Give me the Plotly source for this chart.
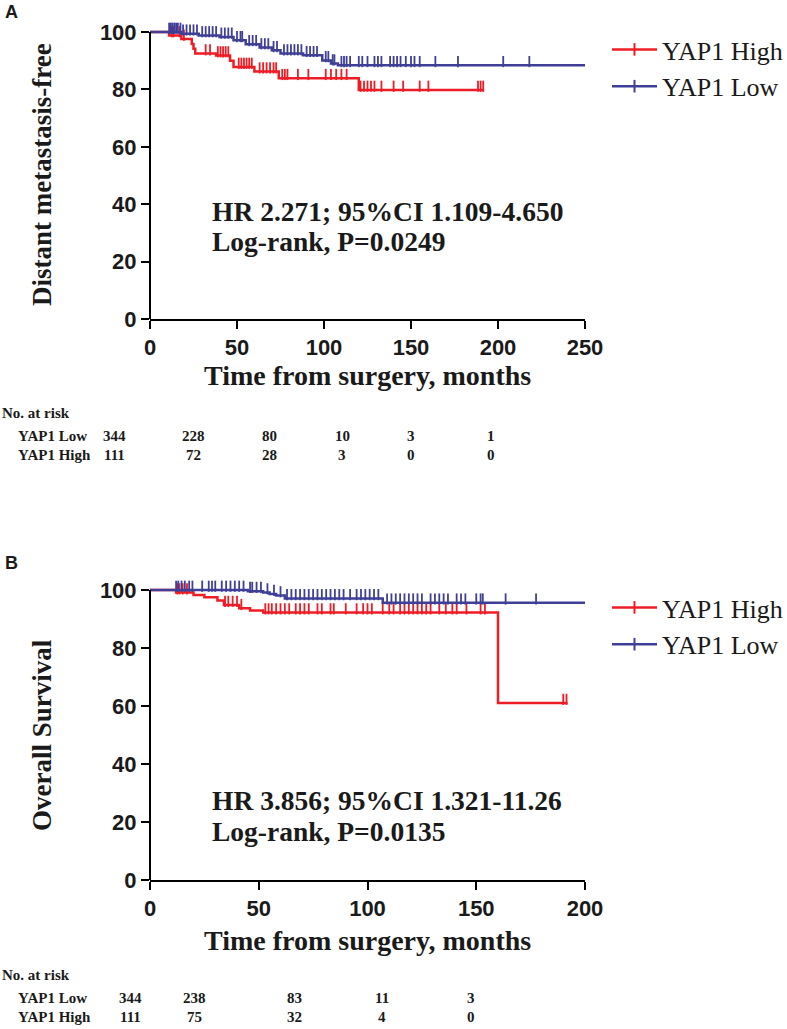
import numpy as np
import plotly.graph_objects as go

# ---------------- Data ----------------
# Panel A: Distant metastasis-free
A_high_event_t = [11, 18, 24, 25, 26, 38, 46, 48, 60, 74, 120]
A_high_surv = [98.8, 97.6, 95.8, 94.2, 92.5, 91.8, 90.0, 87.8, 86.2, 83.9, 79.8]
A_high_end = 192
A_high_censor = [12.5, 13.5, 17, 19.5, 32, 34.5, 39, 40.5, 42, 43.5, 45, 51, 52.5, 54,
                 55.5, 57, 58.5, 63, 65, 67, 69, 71, 72.5, 76, 77.5, 79, 85, 91, 101,
                 104, 107, 110, 113, 121, 123, 125, 127, 129, 133, 140, 145.5, 155,
                 160, 188.5, 190, 191.5]

A_low_event_t = [18, 28, 40, 48, 55, 63, 70, 75, 88, 99, 104, 108]
A_low_surv = [99.4, 98.8, 98.3, 97.1, 95.7, 94.6, 93.6, 92.5, 91.9, 90.1, 89.0, 88.4]
A_low_end = 250
A_low_censor = [11, 12, 13, 14, 15, 16, 17.5, 19, 21, 23, 25, 27, 30, 32, 34, 36, 38,
                41, 43, 45, 47, 50, 52, 53, 57, 59, 61, 64, 66, 68, 71, 73, 77, 79,
                81, 83, 85, 87, 90, 92, 94, 96, 101, 102.5, 105, 106, 110, 111.5, 113,
                115, 120, 122, 125, 129, 131, 133, 138, 140, 142, 144, 147, 150, 152,
                155, 164, 177, 203, 218]

# Panel B: Overall survival
B_high_event_t = [12, 20, 25, 31, 34, 41, 46, 52, 160]
B_high_surv = [99.1, 98.3, 97.5, 96.4, 94.8, 93.7, 92.9, 92.2, 61.0]
B_high_end = 192
B_high_censor = [12.5, 13.5, 15, 17, 34.5, 36, 38, 40, 42, 53, 54.5, 56, 58, 60, 62,
                 64, 67, 69, 71, 73, 77, 79, 83, 84.5, 90, 95, 98, 100, 102, 107, 110,
                 112, 115, 117, 119, 121, 123, 125, 127, 129, 133, 136, 139, 141,
                 145.5, 152, 154, 190, 191.5]

B_low_event_t = [45, 52, 55, 58, 62, 107]
B_low_surv = [99.6, 99.1, 98.6, 98.1, 97.1, 95.6]
B_low_end = 200
B_low_censor = [12, 13, 14.5, 16, 18, 19.5, 24, 27, 28.5, 30, 33, 35, 37, 39, 41, 43,
                46, 47, 49, 51, 54, 57, 60, 63, 65, 67, 69, 71, 73, 75, 77, 79, 81, 83,
                85, 87, 89, 92, 95, 97, 99, 101, 103, 105, 109, 111, 113, 115, 117,
                119, 121, 123, 125, 129, 131, 133, 135, 137, 141, 143, 145, 150, 152,
                153, 163.5, 177.5]

# Risk tables
A_risk_low = ["344", "228", "80", "10", "3", "1"]
A_risk_high = ["111", "72", "28", "3", "0", "0"]
B_risk_low = ["344", "238", "83", "11", "3"]
B_risk_high = ["111", "75", "32", "4", "0"]

series_names = ["YAP1 High", "YAP1 Low"]
A_stats = ["HR 2.271; 95%CI 1.109-4.650", "Log-rank, P=0.0249"]
B_stats = ["HR 3.856; 95%CI 1.321-11.26", "Log-rank, P=0.0135"]

# ---------------- Styling / layout ----------------
W, H = 787, 1029
RED = "#ee1c25"
BLUE = "#3f3f97"
SANS = "Liberation Sans, Arial, sans-serif"
SERIF = "Liberation Serif, Times New Roman, serif"
YTOP = 104  # headroom above 100 so censor ticks at 100 stay visible


def px_x(x):
    return x / W


def px_y(y):
    return 1 - y / H


fig = go.Figure()


def surv_at(times, ev_t, ev_s):
    idx = np.searchsorted(np.array(ev_t, float), np.array(times, float), side="right")
    s = np.array([100.0] + list(ev_s))
    return s[idx]


def add_curve(ev_t, ev_s, end, censor, color, xa, ya, name, legend):
    xs = [0] + list(ev_t) + [end]
    ys = [100] + list(ev_s) + [ev_s[-1]]
    fig.add_trace(go.Scatter(x=xs, y=ys, mode="lines", line=dict(color=color, width=2.5, shape="hv"),
                             xaxis=xa, yaxis=ya, showlegend=False, cliponaxis=False,
                             hoverinfo="skip"))
    cy = surv_at(censor, ev_t, ev_s) + 1.3
    fig.add_trace(go.Scatter(x=censor, y=cy, mode="markers",
                             marker=dict(symbol="line-ns", size=8, line=dict(color=color, width=1.8)),
                             xaxis=xa, yaxis=ya, showlegend=False, cliponaxis=False,
                             hoverinfo="skip"))
    fig.add_trace(go.Scatter(x=[None], y=[None], mode="lines+markers", name=name,
                             line=dict(color=color, width=2.5),
                             marker=dict(symbol="line-ns", size=9, line=dict(color=color, width=2)),
                             xaxis=xa, yaxis=ya, legend=legend))


# Panel A (red drawn first, blue on top)
add_curve(A_high_event_t, A_high_surv, A_high_end, A_high_censor, RED, "x", "y", series_names[0], "legend")
add_curve(A_low_event_t, A_low_surv, A_low_end, A_low_censor, BLUE, "x", "y", series_names[1], "legend")
# Panel B
add_curve(B_high_event_t, B_high_surv, B_high_end, B_high_censor, RED, "x2", "y2", series_names[0], "legend2")
add_curve(B_low_event_t, B_low_surv, B_low_end, B_low_censor, BLUE, "x2", "y2", series_names[1], "legend2")

axis_common = dict(linecolor="black", linewidth=2, ticks="outside",
                   ticklen=8, tickwidth=2, tickcolor="black", showgrid=False,
                   zeroline=False, automargin=False,
                   tickfont=dict(family=SANS, size=22, color="#1a1a1a", weight="bold"))

xdom = [px_x(150), px_x(585)]


# y domains: 0 at bottom pixel, 100 at top pixel; extend to YTOP
def ydom(p0, p100):
    top = p0 - (p0 - p100) * YTOP / 100.0
    return [px_y(p0), px_y(top)]


legend_style = dict(xanchor="left", yanchor="top", itemwidth=45,
                    font=dict(family=SERIF, size=26, color="#1a1a1a"),
                    bgcolor="rgba(0,0,0,0)", tracegroupgap=0)

fig.update_layout(
    template="none",
    width=W, height=H, margin=dict(l=0, r=0, t=0, b=0, autoexpand=False),
    plot_bgcolor="white", paper_bgcolor="white",
    xaxis=dict(domain=xdom, anchor="y", range=[0, 250], tickvals=[0, 50, 100, 150, 200, 250],
               showline=True, **axis_common),
    yaxis=dict(domain=ydom(319, 32), anchor="x", range=[0, YTOP], tickvals=[0, 20, 40, 60, 80, 100],
               showline=False, **axis_common),
    xaxis2=dict(domain=xdom, anchor="y2", range=[0, 200], tickvals=[0, 50, 100, 150, 200],
                showline=True, **axis_common),
    yaxis2=dict(domain=ydom(880, 590), anchor="x2", range=[0, YTOP], tickvals=[0, 20, 40, 60, 80, 100],
                showline=False, **axis_common),
    legend=dict(x=px_x(607), y=px_y(26), **legend_style),
    legend2=dict(x=px_x(607), y=px_y(584), **legend_style),
    showlegend=True,
)

# y-axis lines running from 0 to 100 only
for ya in ["y", "y2"]:
    fig.add_shape(type="line", xref="paper", yref=ya, x0=px_x(150), x1=px_x(150), y0=0, y1=100,
                  line=dict(color="black", width=2), layer="above")

ann = []


def text(x, y, s, size, family=SERIF, bold=True, xanchor="left", angle=0, color="#1a1a1a"):
    ann.append(dict(x=px_x(x), y=px_y(y), xref="paper", yref="paper", text=s, showarrow=False,
                    xanchor=xanchor, yanchor="middle", textangle=angle,
                    font=dict(family=family, size=size, color=color, weight="bold" if bold else "normal")))


# Panel letters
text(3, 12, "A", 18, family=SANS)
text(3, 563, "B", 18, family=SANS)

# Axis titles
text(42, 175, "Distant metastasis-free", 27, xanchor="center", angle=-90)
text(367, 375, "Time from surgery, months", 28, xanchor="center")
text(42, 735, "Overall Survival", 27, xanchor="center", angle=-90)
text(367, 940, "Time from surgery, months", 28, xanchor="center")

# Stats
text(210, 211, A_stats[0], 27.5)
text(210, 241, A_stats[1], 27.5)
text(210, 800, B_stats[0], 27.5)
text(210, 831, B_stats[1], 27.5)

# Risk tables
A_cols = [114, 193, 269, 342, 411, 491]
B_cols = [130, 194, 294, 382, 471]
text(0, 413, "No. at risk", 15)
text(16, 436, series_names[1], 15)
text(16, 455, series_names[0], 15)
for cx, v in zip(A_cols, A_risk_low):
    text(cx, 436, v, 15, xanchor="center")
for cx, v in zip(A_cols, A_risk_high):
    text(cx, 455, v, 15, xanchor="center")

text(0, 975, "No. at risk", 15)
text(16, 998, series_names[1], 15)
text(16, 1017, series_names[0], 15)
for cx, v in zip(B_cols, B_risk_low):
    text(cx, 998, v, 15, xanchor="center")
for cx, v in zip(B_cols, B_risk_high):
    text(cx, 1017, v, 15, xanchor="center")

fig.update_layout(annotations=ann)
fig.write_html("out.html", config={"displayModeBar": False},
               post_script="document.body.style.margin='0';document.body.style.overflow='hidden';")
